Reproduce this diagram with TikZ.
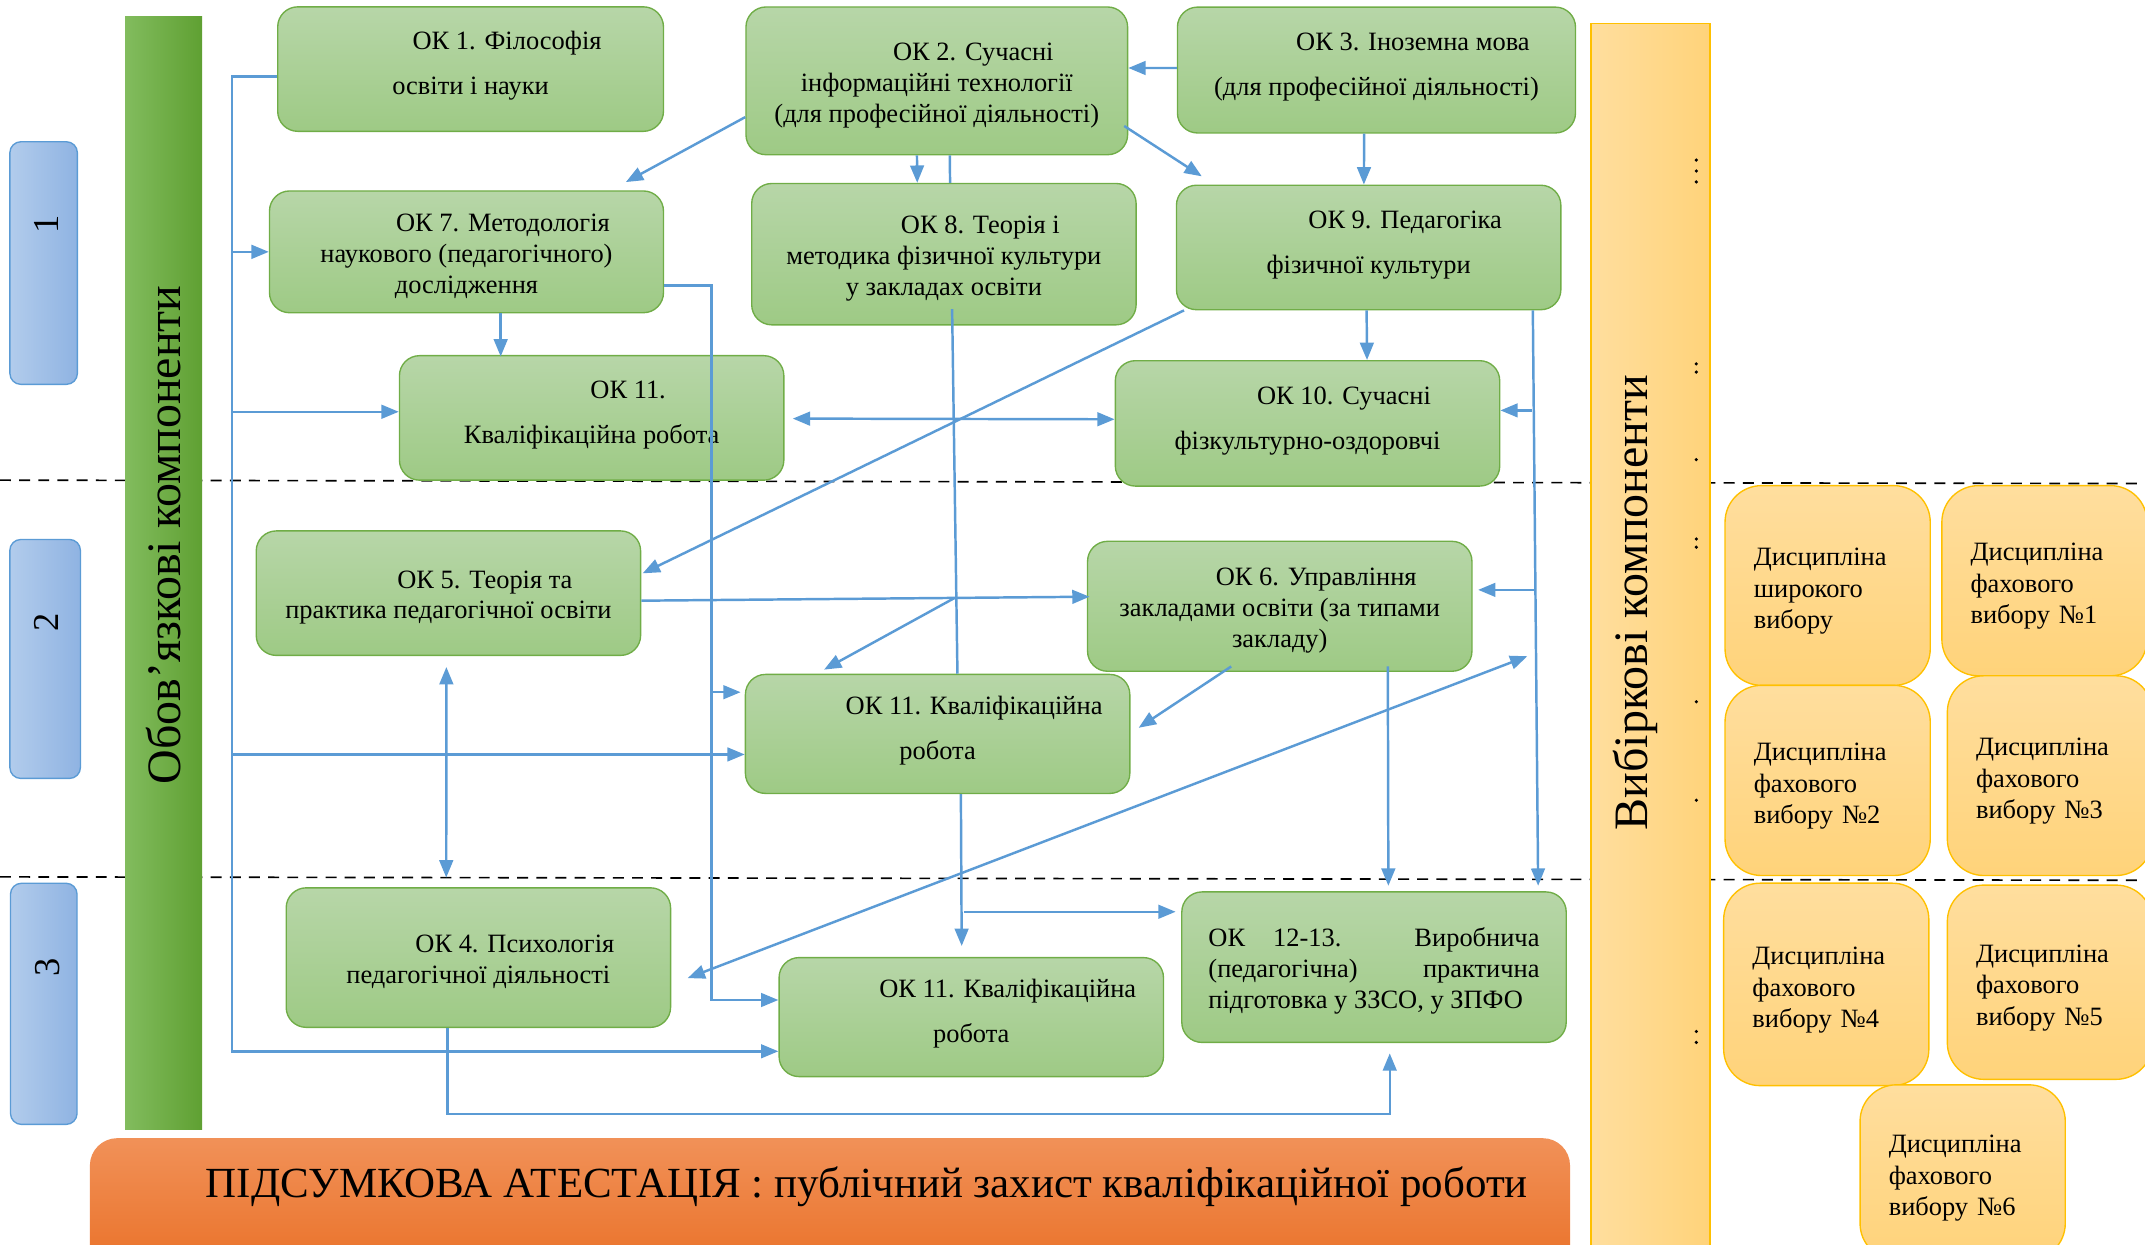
\documentclass[tikz,border=0pt]{standalone}
\usepackage{xcolor}
\usepackage{fontspec}
\setmainfont{Liberation Serif}
\usepackage{tikz}
\usetikzlibrary{arrows.meta,calc}

\definecolor{oktop}{RGB}{183,214,168}
\definecolor{okbot}{RGB}{158,202,133}
\definecolor{okline}{RGB}{112,173,71}
\definecolor{linkblue}{RGB}{91,155,213}
\definecolor{vbtop}{RGB}{255,222,158}
\definecolor{vbbot}{RGB}{255,211,122}
\definecolor{vbline}{RGB}{255,192,0}
\definecolor{semleft}{RGB}{178,204,236}
\definecolor{semright}{RGB}{143,179,226}
\definecolor{barleft}{RGB}{130,188,94}
\definecolor{barright}{RGB}{95,160,50}
\definecolor{atttop}{RGB}{241,145,88}
\definecolor{attbot}{RGB}{232,106,30}

\tikzset{
  okbox/.style={draw=okline, line width=0.75pt, rounded corners=11pt,
    top color=oktop, bottom color=okbot, minimum width=210.75pt,
    inner sep=0pt, align=center, font=\fontsize{14.5}{16.9}\selectfont},
  okloose/.style={okbox, font=\fontsize{14.5}{24.75}\selectfont},
  vbbox/.style={draw=vbline, line width=0.75pt, rounded corners=20pt,
    top color=vbtop, bottom color=vbbot, text width=81pt, inner xsep=15.75pt,
    inner ysep=0pt, align=left, font=\fontsize{14.5}{17.25}\selectfont},
  semester/.style={draw=linkblue, line width=0.75pt, rounded corners=6pt,
    left color=semleft, right color=semright, inner sep=0pt},
  oblbar/.style={left color=barleft, right color=barright, inner sep=0pt},
  vbbar/.style={draw=vbline, line width=0.75pt, left color=vbtop, right color=vbbot, inner sep=0pt},
  attbox/.style={rounded corners=15pt, top color=atttop, bottom color=attbot, inner sep=0pt},
  bigtitle/.style={rotate=90, anchor=base, font=\fontsize{26.3}{30}\selectfont},
  link/.style={draw=linkblue, line width=1.35pt},
  arr/.style={link, -{Triangle[length=9.5pt,width=7.5pt]}},
  dblarr/.style={link, {Triangle[length=9.5pt,width=7.5pt]}-{Triangle[length=9.5pt,width=7.5pt]}},
  stageline/.style={line width=0.9pt, dash pattern=on 6pt off 4.5pt}
}
\newcommand{\okind}{\rule{0pt}{14.5pt}\hspace*{40pt}}
\newcommand{\tailstrut}{\rule[-11pt]{0pt}{11pt}}
\newcommand{\vbhead}{\rule{0pt}{16pt}Дисципліна}

\begin{document}
\begin{tikzpicture}[x=0.75pt,y=0.75pt,yscale=-1,xscale=1]
\clip (0,0) rectangle (1568,909.4);

%Dashed Lines
\draw [stageline]   (0,351) -- (1568,353.5) ;
\draw [stageline]   (0,641) -- (1568,643.5) ;

%Shape: Rectangle [bars]
\draw (119.6,418.6) node [oblbar, minimum width=42.3pt, minimum height=610.35pt] (oblig) {};
\draw (1206.5,483.5) node [vbbar, minimum width=65.25pt, minimum height=699.75pt] (vibir) {};
% Text Node
\draw (132,391) node [bigtitle] (obltitle) {Обов’язкові компоненти};
% Text Node
\draw (1204,440.5) node [bigtitle] (vbtitle) {Вибіркові компоненти};

%Rounded Rect [semesters]
\draw (31.9,192.3) node [semester, minimum width=37pt, minimum height=133pt] (sem1) {};
\draw (33,481.7) node [semester, minimum width=38.7pt, minimum height=131pt] (sem2) {};
\draw (32,733.8) node [semester, minimum width=36.5pt, minimum height=132.2pt] (sem3) {};
% Text Node
\draw (42.4,164) node [rotate=90, anchor=base, font=\fontsize{20}{24}\selectfont] (num1) {1};
\draw (42.4,455) node [rotate=90, anchor=base, font=\fontsize{20}{24}\selectfont] (num2) {2};
\draw (43.7,707) node [rotate=90, anchor=base, font=\fontsize{20}{24}\selectfont] (num3) {3};

%Rounded Rect [obligatory components]
\draw (344,50.5) node [okloose, minimum width=211.5pt, minimum height=68.25pt] (ok1) {\okind ОК 1. Філософія\\освіти і науки\tailstrut};
\draw (684.8,59.1) node [okbox, minimum width=209.25pt, minimum height=81pt] (ok2) {\okind ОК 2. Сучасні\\інформаційні технології\\(для професійної діяльності)};
\draw (1006.2,51.2) node [okloose, minimum width=218.25pt, minimum height=69pt] (ok3) {\okind ОК 3. Іноземна мова\\(для професійної діяльності)\tailstrut};
\draw (341,184.1) node [okbox, minimum width=216pt, minimum height=66.75pt] (ok7) {\okind ОК 7. Методологія\\наукового (педагогічного)\\дослідження};
\draw (690,185.8) node [okbox, minimum height=77.5pt] (ok8) {\okind ОК 8. Теорія і\\методика фізичної культури\\у закладах освіти};
\draw (1000.5,180.9) node [okloose, minimum height=68.25pt] (ok9) {\okind ОК 9. Педагогіка\\фізичної культури\tailstrut};
\draw (432.5,305.5) node [okloose, minimum height=68.25pt] (ok11a) {\okind ОК 11.\\Кваліфікаційна робота\tailstrut};
\draw (955.8,309.5) node [okloose, minimum height=68.75pt] (ok10) {\okind ОК 10. Сучасні\\фізкультурно-оздоровчі\tailstrut};
\draw (327.8,433.6) node [okbox, minimum height=68.25pt] (ok5) {\okind ОК 5. Теорія та\\практика педагогічної освіти};
\draw (935.5,443.2) node [okbox, minimum height=71.25pt] (ok6) {\okind ОК 6. Управління\\закладами освіти (за типами\\закладу)};
\draw (685.4,536.5) node [okloose, minimum height=65.25pt] (ok11b) {\okind ОК 11. Кваліфікаційна\\робота\tailstrut};
\draw (349.7,700) node [okbox, minimum height=76.5pt] (ok4) {\okind ОК 4. Психологія\\педагогічної діяльності};
\draw (710,743.5) node [okloose, minimum height=65.25pt] (ok11c) {\okind ОК 11. Кваліфікаційна\\робота\tailstrut};
\draw (1004.4,707) node [okbox, minimum height=82.5pt, align=left] (ok12) {\rule{0pt}{14.5pt}\makebox[181.5pt][s]{ОК 12-13. Виробнича}\\\makebox[181.5pt][s]{(педагогічна) практична}\\підготовка у ЗЗСО, у ЗПФО};

%Rounded Rect [elective disciplines]
\draw (1336,428) node [vbbox, minimum height=109.5pt] (vshir) {\vbhead\\широкого\\вибору};
\draw (1494.5,424.5) node [vbbox, minimum height=104.25pt] (vfah1) {\vbhead\\фахового\\вибору №1};
\draw (1336,570.5) node [vbbox, minimum height=104.25pt] (vfah2) {\vbhead\\фахового\\вибору №2};
\draw (1498.5,567) node [vbbox, minimum height=109.5pt] (vfah3) {\vbhead\\фахового\\вибору №3};
\draw (1335,719.6) node [vbbox, minimum height=111pt] (vfah4) {\vbhead\\фахового\\вибору №4};
\draw (1498.5,718) node [vbbox, minimum height=106.5pt] (vfah5) {\vbhead\\фахового\\вибору №5};
\draw (1434.7,857) node [vbbox, minimum height=96pt] (vfah6) {\vbhead\\фахового\\вибору №6};

%Rounded Rect [attestation]
\draw (606.7,891) node [attbox, minimum width=811.5pt, minimum height=88.5pt] (att) {};
% Text Node
\draw (633.7,875.7) node [anchor=base, font=\fontsize{23.55}{27}\selectfont] (atttext) {ПІДСУМКОВА АТЕСТАЦІЯ : публічний захист кваліфікаційної роботи};

%Straight Lines [left bus]
\coordinate (bus) at ($(ok1.west)+(-33,5.5)$);
\draw [arr] ($(ok1.west)+(0,5.5)$) -- (bus) |- ($(ok11c.west)+(0,25)$);
\draw [arr] (bus |- ok7.west) -- (ok7.west);
\draw [arr] (bus |- ok11a.west) ++(0,-4.5) -- ($(ok11a.west)+(0,-4.5)$);
\draw [arr] (bus |- ok11b.west) ++(0,15) -- ($(ok11b.west)+(0,15)$);

%Straight Lines [from OK 7]
\draw [arr] (ok7.south) ++(25,0) -- ++(0,31.5);
\draw [arr] ($(ok7.east)+(0,24.5)$) -| ($(ok11c.west)+(-49,-12.5)$) -- ($(ok11c.west)+(0,-12.5)$);
\draw [arr] ($(ok11b.west)+(-24.5,-30.5)$) -- ($(ok11b.west)+(-3,-30.5)$);

%Straight Lines [from OK 2 and OK 3]
\draw [arr] ($(ok2.west)+(0,26.5)$) -- ($(ok7.north east)+(-28,-6)$);
\draw [arr] ($(ok3.west)+(0,-1.5)$) -- ($(ok2.east)+(0,-9.4)$);
\draw [arr] ($(ok2.south)+(-14.5,0)$) -- ($(ok8.north)+(-19.5,0)$);
\draw [link] ($(ok2.south)+(9.5,0)$) -- ($(ok8.north)+(4.5,0)$);
\draw [link] ($(ok8.south)+(6,-12)$) -- ($(ok11b.north)+(14.5,0)$);
\draw [arr] ($(ok2.east)+(-3,33)$) -- ($(ok9.north west)+(19,-6)$);
\draw [arr] ($(ok3.south)+(-9,0)$) -- ($(ok9.north)+(-3.5,0)$);

%Straight Lines [OK 11 - OK 10]
\draw [dblarr] ($(ok11a.east)+(6,0.5)$) -- ($(ok10.west)+(0,-3)$);

%Straight Lines [from OK 9]
\draw [arr] ($(ok9.south)+(-1.5,0)$) -- ($(ok10.north)+(43.5,0)$);
\draw [arr] ($(ok9.south east)+(-21,0)$) -- ($(ok12.north east)+(-21,-4)$);
\draw [arr] ($(ok10.east)+(23,-9.5)$) -- ($(ok10.east)+(0,-9.5)$);
\draw [arr] ($(ok6.east)+(45,-12)$) -- ($(ok6.east)+(4,-12)$);
\draw [arr] ($(ok9.south west)+(6,0)$) -- ($(ok5.east)+(1,-14.5)$);

%Straight Lines [OK 5, OK 6]
\draw [arr] ($(ok5.east)+(0,5.5)$) -- ($(ok6.west)+(2,-7)$) coordinate[pos=0.699] (mid56);
\draw [arr] (mid56) -- ($(ok11b.north west)+(58,-3)$);
\draw [arr] ($(ok6.south)+(-35.5,-4)$) -- ($(ok11b.east)+(6,-4.5)$);
\draw [arr] ($(ok6.south)+(79,-4)$) -- ($(ok12.north)+(10.5,-4)$);
\draw [dblarr] ($(ok4.east)+(12,15)$) -- ($(ok6.east)+(40,36.5)$);
\draw [dblarr] ($(ok5.south)+(-1.5,8)$) -- ($(ok4.north)+(-23.5,-7)$);

%Straight Lines [to stage 3]
\draw [arr] ($(ok11b.south)+(17,0)$) -- ($(ok11c.north)+(-7,-8)$);
\draw [arr] ($(ok11b.south)+(19.5,86)$) -- ($(ok12.west)+(-4,-40.5)$);
\draw [arr] ($(ok4.south)+(-22.5,0)$) |- ($(ok12.south)+(11.5,52)$) -- ($(ok12.south)+(11.5,7.5)$);

%Dots on the elective bar
\foreach \ty in {117,125,133,266,272,336,394,400,513,585,754,762}
  \fill (1240,\ty) circle (1.3);

\end{tikzpicture}
\end{document}
